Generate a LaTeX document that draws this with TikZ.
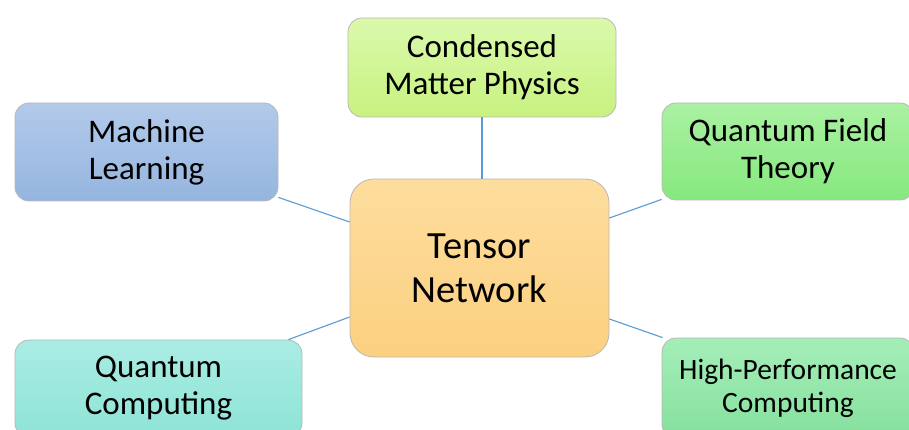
\documentclass[tikz,border=0pt]{standalone}
\usepackage{fontspec}
\setmainfont{Carlito}
\usetikzlibrary{calc}
\definecolor{linkc}{HTML}{5B9BD5}
\definecolor{edgec}{HTML}{B8B8B8}
\tikzset{
  box/.style={draw=edgec, line width=0.8pt, rounded corners=14pt, align=center, inner sep=0pt, text=black},
  link/.style={draw=linkc, line width=1.1pt},
  sat/.style={box, font=\fontsize{33}{37}\selectfont},
}
\begin{document}
\begin{tikzpicture}[x=1pt,y=-1pt]
\useasboundingbox (0,0) rectangle (909,430);
\clip (0,0) rectangle (909,430);
\fill[white] (0,0) rectangle (909,430);
\node[sat, minimum width=263pt, minimum height=98pt, top color={rgb,255:red,178;green,202;blue,234}, bottom color={rgb,255:red,149;green,181;blue,223}] (ml) at (146.5,152) {Machine\\Learning};
\node[sat, minimum width=268pt, minimum height=99pt, top color={rgb,255:red,218;green,249;blue,172}, bottom color={rgb,255:red,200;green,242;blue,128}] (cmp) at (482,67.5) {Condensed\\Matter Physics};
\node[sat, minimum width=252pt, minimum height=97pt, top color={rgb,255:red,170;green,241;blue,162}, bottom color={rgb,255:red,134;green,232;blue,126}] (qft) at (788,151.5) {Quantum Field\\Theory};
\node[sat, minimum width=287pt, minimum height=97pt, top color={rgb,255:red,170;green,236;blue,228}, bottom color={rgb,255:red,142;green,228;blue,214}] (qc) at (158.5,388.5) {Quantum\\Computing};
\node[box, font=\fontsize{29.5}{33}\selectfont, minimum width=252pt, minimum height=100pt, top color={rgb,255:red,164;green,238;blue,184}, bottom color={rgb,255:red,134;green,224;blue,158}] (hpc) at (788,388) {High-Performance\\Computing};
\node[box, rounded corners=24pt, font=\fontsize{38.5}{44}\selectfont, minimum width=259pt, minimum height=178pt, top color={rgb,255:red,253;green,221;blue,158}, bottom color={rgb,255:red,252;green,208;blue,128}] (tn) at (479.5,268) {Tensor\\Network};
\draw[link] (cmp.south) -- (cmp.south |- tn.north);
\draw[link] ($(ml.south east)+(0,-4)$) -- ($(tn.west)+(0,-46)$);
\draw[link] ($(qft.south west)+(0,-1)$) -- ($(tn.east)+(0,-50)$);
\draw[link] ($(qc.north east)+(-14,0)$) -- ($(tn.west)+(0,49)$);
\draw[link] ($(hpc.north west)+(1,0)$) -- ($(tn.east)+(0,51)$);
\end{tikzpicture}
\end{document}
